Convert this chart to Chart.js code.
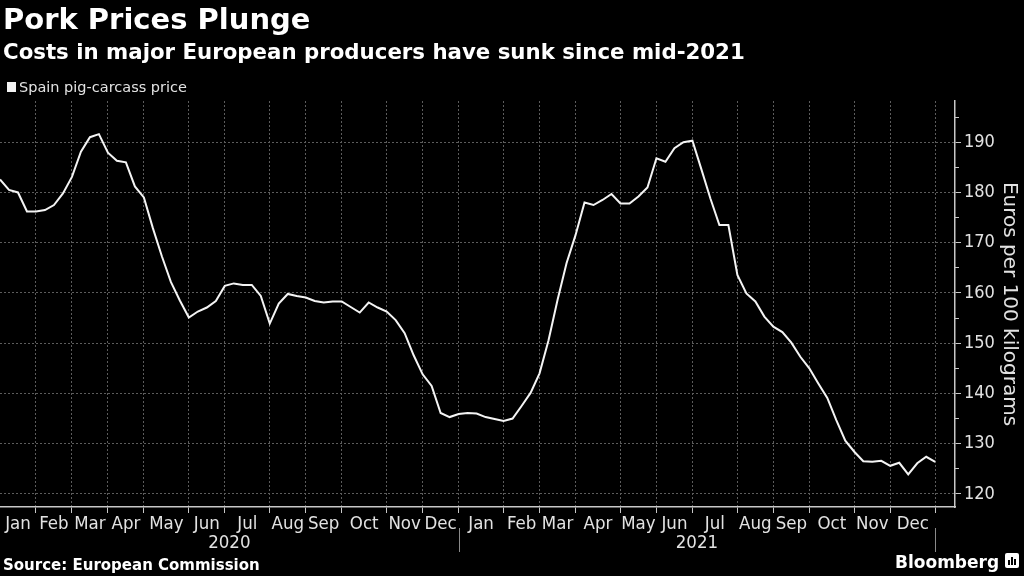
<!DOCTYPE html>
<html>
<head>
<meta charset="utf-8">
<title>Pork Prices Plunge</title>
<script src="https://cdn.jsdelivr.net/npm/chart.js@4.4.1/dist/chart.umd.min.js"></script>
<style>
  html, body { margin: 0; padding: 0; background: #000; }
  canvas { display: block; }
</style>
</head>
<body>
<canvas id="chart" width="1024" height="576"></canvas>
<script>
const titleText = 'Pork Prices Plunge';
const subtitleText = 'Costs in major European producers have sunk since mid-2021';
const seriesLabel = 'Spain pig-carcass price';
const sourceText = 'Source: European Commission';
const yAxisTitle = 'Euros per 100 kilograms';

// weekly prices, first observation dated Fri 10 Jan 2020
const firstWeek = [2020, 0, 10];
const prices = [
  182.6, 180.5, 180.0, 176.2, 176.2, 176.5, 177.5, 179.8, 183.1, 188.1,
  191.0, 191.6, 187.9, 186.3, 186.0, 181.2, 179.0, 172.9, 167.3, 162.2,
  158.5, 155.1, 156.3, 157.1, 158.4, 161.4, 161.9, 161.6, 161.6, 159.4,
  153.9, 157.9, 159.8, 159.4, 159.1, 158.4, 158.1, 158.3, 158.3, 157.2,
  156.1, 158.1, 157.1, 156.3, 154.6, 152.0, 147.6, 143.8, 141.5, 136.1,
  135.3, 135.9, 136.1, 136.0, 135.3, 134.9, 134.5, 135.0, 137.5, 140.1,
  144.0, 150.6, 158.6, 165.9, 171.5, 178.0, 177.5, 178.5, 179.7, 177.8,
  177.8, 179.2, 181.0, 186.8, 186.1, 188.8, 190.0, 190.3, 184.6, 178.8,
  173.5, 173.5, 163.6, 159.9, 158.3, 155.3, 153.3, 152.2, 150.1, 147.3,
  145.0, 142.0, 139.1, 134.7, 130.6, 128.4, 126.5, 126.4, 126.6, 125.6,
  126.2, 123.9, 126.1, 127.4, 126.4
];
const monthNames = ['Jan', 'Feb', 'Mar', 'Apr', 'May', 'Jun', 'Jul', 'Aug', 'Sep', 'Oct', 'Nov', 'Dec'];
const yTicks = [120, 130, 140, 150, 160, 170, 180, 190];
const yMinorTicks = [125, 135, 145, 155, 165, 175, 185, 195];

const gridColor = '#5c5c5c';
const axisColor = '#c8c8c8';
const labelColor = '#e2e2e2';
const fontFamily = '"DejaVu Sans", "Liberation Sans", sans-serif';

// axis labels in the original use a narrow face; use DejaVu Condensed when it is installed
const probe = document.createElement('canvas').getContext('2d');
probe.font = '18px "DejaVu Sans"';
const wideW = probe.measureText('Nov Dec Aug Sep').width;
probe.font = '18px "DejaVu Sans Condensed", "DejaVu Sans"';
const narrowW = probe.measureText('Nov Dec Aug Sep').width;
const hasCondensed = narrowW < wideW - 1;
const axisFamily = hasCondensed ? '"DejaVu Sans Condensed", "DejaVu Sans", sans-serif' : fontFamily;
const axisSize = hasCondensed ? 18.5 : 17;

const weekDates = prices.map((_, i) => new Date(Date.UTC(firstWeek[0], firstWeek[1], firstWeek[2] + 7 * i)));

// a month (or year) begins at its first weekly point
function boundaries(part) {
  const starts = [0];
  weekDates.forEach((d, i) => {
    if (i > 0 && part(d) !== part(weekDates[i - 1])) starts.push(i);
  });
  return starts;
}
const monthStarts = boundaries(d => d.getUTCMonth());
const yearStarts = boundaries(d => d.getUTCFullYear());

const monthCenters = [];
const monthLabels = [];
for (let k = 0; k < monthStarts.length - 1; k++) {
  monthCenters.push((monthStarts[k] + monthStarts[k + 1]) / 2);
  monthLabels.push(monthNames[weekDates[monthStarts[k]].getUTCMonth()]);
}

const overlay = {
  id: 'overlay',
  beforeDraw(chart) {
    const ctx = chart.ctx;
    ctx.save();
    ctx.fillStyle = '#000';
    ctx.fillRect(0, 0, chart.width, chart.height);
    ctx.restore();
  },
  afterDraw(chart) {
    const ctx = chart.ctx;
    const x = chart.scales.x;
    ctx.save();
    ctx.textAlign = 'left';
    ctx.textBaseline = 'alphabetic';
    ctx.fillStyle = '#fff';
    ctx.font = 'bold 29px ' + fontFamily;
    ctx.fillText(titleText, 3, 29);
    ctx.font = 'bold 21.3px ' + fontFamily;
    ctx.fillText(subtitleText, 3, 59);

    // legend
    ctx.fillStyle = '#f2f2f2';
    ctx.fillRect(7, 82, 9, 10);
    ctx.fillStyle = labelColor;
    ctx.font = '14.5px ' + fontFamily;
    ctx.fillText(seriesLabel, 19, 92);

    // year row under the month labels
    ctx.font = axisSize + 'px ' + axisFamily;
    ctx.textAlign = 'center';
    for (let k = 0; k < yearStarts.length - 1; k++) {
      const a = x.getPixelForValue(yearStarts[k]);
      const b = x.getPixelForValue(yearStarts[k + 1]);
      ctx.fillText(String(weekDates[yearStarts[k]].getUTCFullYear()), (a + b) / 2, 548);
    }
    ctx.strokeStyle = '#8a8a8a';
    ctx.lineWidth = 1;
    yearStarts.slice(1).forEach(v => {
      const px = Math.round(x.getPixelForValue(v)) + 0.5;
      ctx.beginPath();
      ctx.moveTo(px, 528);
      ctx.lineTo(px, 552);
      ctx.stroke();
    });

    // footer
    ctx.textAlign = 'left';
    ctx.fillStyle = '#fff';
    ctx.font = 'bold 15px ' + fontFamily;
    ctx.fillText(sourceText, 3, 570);
    ctx.font = 'bold 17px ' + fontFamily;
    ctx.fillText('Bloomberg', 895, 568);
    ctx.beginPath();
    ctx.roundRect(1005, 553, 14, 15, 2);
    ctx.fill();
    ctx.fillStyle = '#000';
    ctx.fillRect(1008, 560, 2, 5);
    ctx.fillRect(1011, 557, 2, 8);
    ctx.fillRect(1014, 559, 2, 6);
    ctx.restore();
  }
};

const ctx = document.getElementById('chart').getContext('2d');
new Chart(ctx, {
  type: 'line',
  data: {
    datasets: [{
      label: seriesLabel,
      data: prices.map((v, i) => ({ x: i, y: v })),
      xAxisID: 'x',
      yAxisID: 'y',
      borderColor: '#f4f4f4',
      borderWidth: 2,
      pointRadius: 0,
      tension: 0
    }]
  },
  options: {
    responsive: false,
    animation: false,
    devicePixelRatio: 1,
    layout: { padding: { top: 101, left: 0, right: 0, bottom: 0 } },
    plugins: {
      legend: { display: false },
      tooltip: { enabled: false }
    },
    font: { family: fontFamily },
    scales: {
      x: {
        type: 'linear',
        position: 'bottom',
        weight: 0,
        min: 0,
        max: 106.2,
        afterBuildTicks: s => { s.ticks = monthStarts.slice(1).map(v => ({ value: v })); },
        afterFit: s => { s.height = 6; },
        ticks: { display: false },
        grid: {
          color: gridColor,
          lineWidth: 1,
          drawTicks: true,
          tickLength: 6,
          tickColor: axisColor,
          tickBorderDash: []
        },
        border: { display: true, color: axisColor, width: 1.5, dash: [2, 2] }
      },
      x2: {
        type: 'linear',
        position: 'bottom',
        weight: 1,
        min: 0,
        max: 106.2,
        afterBuildTicks: s => { s.ticks = monthCenters.map(v => ({ value: v })); },
        afterFit: s => { s.height = 63; },
        ticks: {
          autoSkip: false,
          maxRotation: 0,
          padding: 0,
          color: labelColor,
          font: { family: axisFamily, size: axisSize },
          callback: (v, i) => monthLabels[i]
        },
        grid: { display: false, drawTicks: false },
        border: { display: false }
      },
      y: {
        position: 'right',
        weight: 1,
        min: 117.4,
        max: 198.2,
        afterBuildTicks: s => { s.ticks = yTicks.map(v => ({ value: v })); },
        afterFit: s => { s.width = 69; },
        ticks: {
          padding: 3,
          color: labelColor,
          font: { family: axisFamily, size: hasCondensed ? 18 : 16 }
        },
        grid: {
          color: gridColor,
          lineWidth: 1,
          drawTicks: true,
          tickLength: 6,
          tickColor: axisColor,
          tickBorderDash: []
        },
        border: { display: true, color: axisColor, width: 1.5, dash: [2, 2] },
        title: {
          display: true,
          text: yAxisTitle,
          color: labelColor,
          font: { family: fontFamily, size: 20 },
          padding: { top: 3, bottom: 0 }
        }
      },
      y2: {
        position: 'right',
        weight: 0,
        min: 117.4,
        max: 198.2,
        afterBuildTicks: s => { s.ticks = yMinorTicks.map(v => ({ value: v })); },
        afterFit: s => { s.width = 0; },
        ticks: { display: false },
        grid: {
          drawOnChartArea: false,
          drawTicks: true,
          tickLength: 4,
          tickColor: axisColor
        },
        border: { display: false }
      }
    }
  },
  plugins: [overlay]
});
</script>
</body>
</html>
